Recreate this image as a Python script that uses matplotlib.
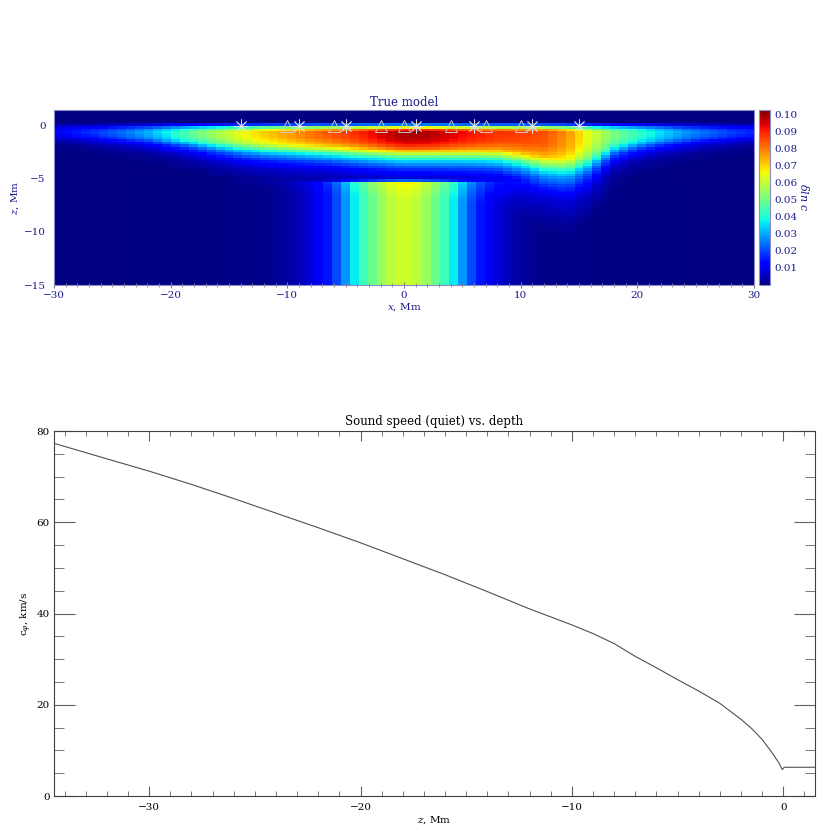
import numpy as np
import matplotlib
matplotlib.use('Agg')
import matplotlib.pyplot as plt
from matplotlib.ticker import MultipleLocator

plt.rcParams['font.family'] = ['DejaVu Serif']
plt.rcParams['mathtext.fontset'] = 'dejavuserif'

# ---- true model (delta ln c) ----
# shallow layer: peak value and depth scale (Mm) every 2 Mm in x
layer_x = np.arange(-30, 31, 2)
layer_peak = [0.013, 0.016, 0.020, 0.025, 0.031, 0.040, 0.050, 0.058, 0.066, 0.072,
              0.077, 0.082, 0.086, 0.090, 0.096, 0.101, 0.100, 0.096, 0.092, 0.089,
              0.088, 0.086, 0.078, 0.064, 0.052, 0.044, 0.036, 0.029, 0.024, 0.020, 0.017]
layer_depth = [1.0, 1.1, 1.2, 1.3, 1.4, 1.55, 1.7, 1.9, 2.05, 2.15,
               2.2, 2.25, 2.3, 2.4, 2.45, 2.5, 2.5, 2.55, 2.6, 2.7,
               3.0, 3.5, 3.8, 3.3, 2.2, 1.8, 1.6, 1.45, 1.3, 1.2, 1.1]
# vertical shape of the layer against depth / depth scale
shape_u = [0.0, 0.5, 0.7, 0.85, 1.0, 1.15, 1.3, 1.5, 1.7, 1.9, 2.2, 2.5, 2.8]
shape_g = [1.0, 0.97, 0.91, 0.83, 0.66, 0.49, 0.36, 0.24, 0.15, 0.09, 0.05, 0.02, 0.0]
# near-surface taper
surf_z = [-0.5, -0.375, -0.125, 0.125, 0.375]
surf_s = [1.0, 0.9, 0.65, 0.25, 0.0]
# deep column below ~5 Mm
col_x = [-30, -12, -10, -9, -8, -7, -6, -5, -4, -3, -2, -1, 0,
         1, 2, 3, 4, 5, 6, 7, 8, 9, 10, 12, 30]
col_amp = [0.0, 0.001, 0.003, 0.005, 0.008, 0.012, 0.018, 0.028, 0.039, 0.047, 0.054, 0.060, 0.062,
           0.060, 0.054, 0.047, 0.039, 0.028, 0.018, 0.012, 0.008, 0.005, 0.003, 0.001, 0.0]
col_top = -5.2

star_x = [-14, -9, -5, 1, 6, 11, 15]
tri_x = [-10, -6, -2, 0, 4, 7, 10]

# ---- quiet sound speed vs depth ----
depth = [-34.5, -32, -30, -28, -26, -24, -22, -20, -18, -16, -14, -12, -10, -9, -8,
         -7.5, -7, -6, -5, -4, -3, -2, -1.5, -1, -0.5, -0.2, -0.05, 0.05, 0.5, 1.0, 1.5]
speed = [77.3, 73.9, 71.2, 68.3, 65.2, 62.0, 58.8, 55.5, 52.0, 48.5, 44.8, 41.0, 37.5, 35.6, 33.4,
         32.0, 30.6, 28.1, 25.5, 23.0, 20.3, 16.8, 14.8, 12.4, 9.3, 7.2, 5.8, 6.3, 6.3, 6.3, 6.3]

# build the model grid
x_edges = np.linspace(-30, 30, 79)
z_edges = np.arange(-15, 1.5001, 0.25)
xc = 0.5 * (x_edges[1:] + x_edges[:-1])
zc = 0.5 * (z_edges[1:] + z_edges[:-1])
A = np.interp(xc, layer_x, layer_peak)
D = np.interp(xc, layer_x, layer_depth)
C = np.interp(xc, col_x, col_amp)
u = -zc[:, None] / D[None, :]
g = np.interp(u, shape_u, shape_g)
s = np.interp(zc, surf_z, surf_s)[:, None]
deep = np.interp(zc, [col_top - 0.15, col_top + 0.15], [1, 0])[:, None]
model = A[None, :] * g * s + C[None, :] * deep

navy = '#1a1a8a'
frame = '#8c8cc8'

fig = plt.figure(figsize=(8.3, 8.3), dpi=100)

ax1 = fig.add_axes([54/830, 1-285/830, 700/830, 175/830])
mesh = ax1.pcolormesh(x_edges, z_edges, model, cmap='jet', vmin=0, vmax=0.1025)
ax1.plot(star_x, np.zeros(len(star_x)), ls='none', marker=(8, 2, 0), ms=10,
         mec='#e0e0e8', mew=0.6)
ax1.plot(tri_x, np.zeros(len(tri_x)), ls='none', marker='^', ms=8.5,
         mfc='none', mec='#c8c8c8', mew=0.7)
ax1.set_xlim(-30, 30)
ax1.set_ylim(-15, 1.5)
ax1.set_yticks([0, -5, -10, -15])
ax1.set_xticks([-30, -20, -10, 0, 10, 20, 30])
ax1.xaxis.set_minor_locator(MultipleLocator(1))
ax1.tick_params(axis='x', which='major', direction='inout', length=5, color='#808080',
                labelcolor=navy, labelsize=7.5, pad=2)
ax1.tick_params(axis='x', which='minor', direction='inout', length=3, color='#808080')
ax1.tick_params(axis='y', length=0, labelcolor=navy, labelsize=7.5, pad=6)
for sp in ax1.spines.values():
    sp.set_color(frame)
ax1.set_title('True model', color=navy, fontsize=8.5, pad=3)
ax1.set_xlabel(r'$x$, Mm', color=navy, fontsize=7.5, labelpad=1)
ax1.set_ylabel(r'$z$, Mm', color=navy, fontsize=7.5, labelpad=2)

cax = fig.add_axes([759/830, 1-285/830, 11/830, 175/830])
cb = fig.colorbar(mesh, cax=cax, ticks=np.arange(0.01, 0.1001, 0.01), format='%.2f')
cb.outline.set_edgecolor(frame)
cax.tick_params(length=0, labelcolor=navy, labelsize=7.5, pad=3)
cb.set_label(r'$\delta ln\ c$', color=navy, fontsize=8, rotation=-90, labelpad=10)

ax2 = fig.add_axes([54/830, 34/830, 761/830, 365/830])
ax2.plot(depth, speed, color='#505050', lw=0.8)
ax2.set_xlim(-34.5, 1.5)
ax2.set_ylim(0, 80)
ax2.set_xticks([-30, -20, -10, 0])
ax2.xaxis.set_minor_locator(MultipleLocator(1))
ax2.set_yticks([0, 20, 40, 60, 80])
ax2.yaxis.set_minor_locator(MultipleLocator(5))
ax2.tick_params(axis='x', which='major', direction='in', length=7, top=True, labelsize=7.5, pad=5)
ax2.tick_params(axis='x', which='minor', direction='in', length=3.5, top=True)
ax2.tick_params(axis='y', which='major', direction='in', length=15, right=True, labelsize=7.5, pad=3)
ax2.tick_params(axis='y', which='minor', direction='in', length=7.5, right=True)
for sp in ax2.spines.values():
    sp.set_color('#404040')
ax2.tick_params(which='both', color='#606060')
ax2.set_title('Sound speed (quiet) vs. depth', fontsize=8.5, pad=4)
ax2.set_xlabel(r'$z$, Mm', fontsize=7.5, labelpad=2)
ax2.set_ylabel(r'c$_\varphi$, km/s', fontsize=7.5, labelpad=2)

fig.savefig('out.png', dpi=100)
